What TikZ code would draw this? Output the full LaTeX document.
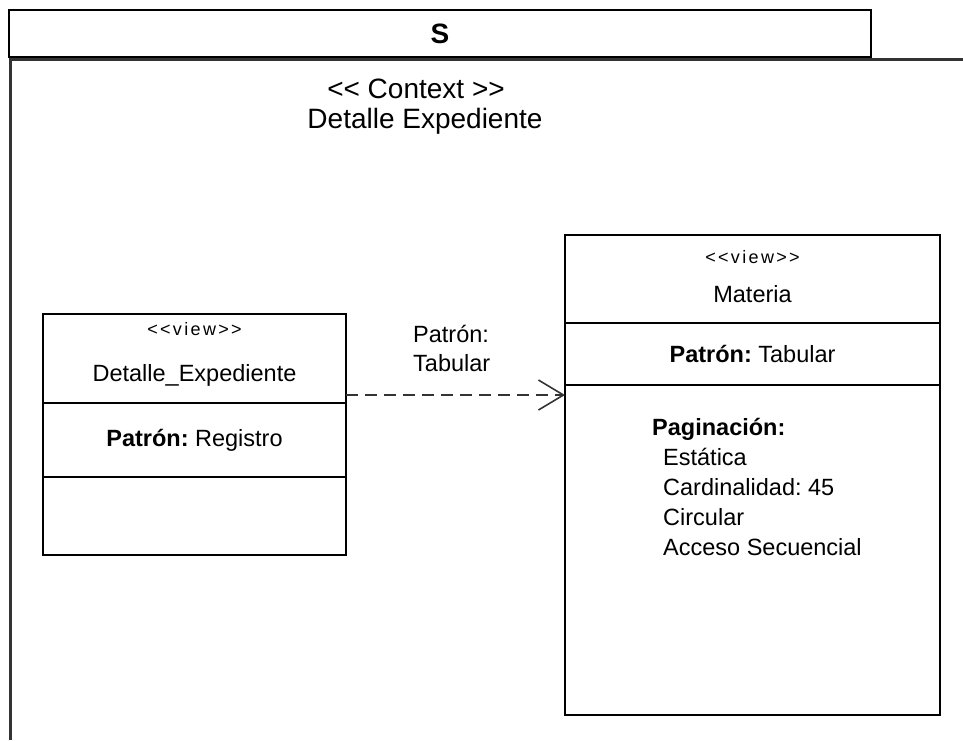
\documentclass[tikz,border=0pt]{standalone}
\usepackage{fontspec}
\setmainfont{Liberation Sans}
\frenchspacing
\usetikzlibrary{arrows.meta, positioning}
\tikzset {
    frameline/.style = {
        draw = black!80,
        line width=3pt
    },
    compart/.style 2 args = {
        draw,
        shape = rectangle,
        line width=1.6pt,
        inner sep=0pt,
        outer sep=0pt,
        minimum width=#1,
        minimum height=#2,
        font = \fontsize{23.5}{28}\selectfont
    },
    txt/.style = {
        inner sep=0pt,
        anchor=base,
        font = \fontsize{23.5}{28}\selectfont
    },
    stereo/.style = {
        txt,
        font = \fontsize{18}{20}\selectfont\addfontfeature{LetterSpace=13}
    },
    dependency/.style = {
        draw = black!80,
        line width=1.6pt,
        dash pattern=on 12pt off 7pt,
        -{Straight Barb[length=25pt, width=30pt, line width=1.6pt]}
    }
}

\begin{document}
\begin{tikzpicture}[x=1pt, y=-1pt]
    \useasboundingbox (0,0) rectangle (963,740);

    % Frame : title tab and open border
    \node [compart={862pt}{47pt}, font=\fontsize{28}{30}\selectfont\bfseries] at (440,33.5) (tab) {S};
    \coordinate (framebl) at (10,740);
    \coordinate (frametl) at (10,59);
    \coordinate (frametr) at (963,59);
    \draw [frameline] (framebl) -- (frametl) -- (frametr);

    \node [txt, font=\fontsize{28}{30}\selectfont] at (416,98)  (ctx)     {<{}< Context >{}>};
    \node [txt, font=\fontsize{28}{30}\selectfont] at (425,128) (ctxname) {Detalle Expediente};

    % Left class : header, pattern, body
    \node [compart={303pt}{89pt}] at (194.5,358.5)            (head1) {};
    \node [compart={303pt}{74pt}, below=0pt of head1]          (pat1)  {\textbf{Patrón:} Registro};
    \node [compart={303pt}{78pt}, below=0pt of pat1]           (body1) {};
    \node [stereo] at ([yshift=-21pt]head1.north)              (view1) {<{}<view>{}>};
    \node [txt]    at ([yshift=-67pt]head1.north)              (name1) {Detalle\_Expediente};

    % Right class : header, pattern, body
    \node [compart={375pt}{88pt}] at (752.5,279)              (head2) {};
    \node [compart={375pt}{62pt}, below=0pt of head2]          (pat2)  {\textbf{Patrón:} Tabular};
    \node [compart={375pt}{330pt}, below=0pt of pat2]          (body2) {};
    \node [stereo] at ([yshift=-28pt]head2.north)              (view2) {<{}<view>{}>};
    \node [txt]    at ([yshift=-67pt]head2.north)              (name2) {Materia};

    \node [txt, anchor=base west] at (652,435) (pag) {\textbf{Paginación:}};
    \foreach \item [count=\i] in {Estática, Cardinalidad: 45, Circular, Acceso Secuencial}
        \node [txt, anchor=base west] at (663,435+30*\i) (pag\i) {\item};

    % Dependency between the two views
    \draw [dependency] ([yshift=8pt]head1.south east) -- ([yshift=8pt]head1.south east -| body2.west);
    \node [txt, anchor=base west] at (413,342) (deplabel1) {Patrón:};
    \node [txt, anchor=base west] at (413,371) (deplabel2) {Tabular};
\end{tikzpicture}
\end{document}
